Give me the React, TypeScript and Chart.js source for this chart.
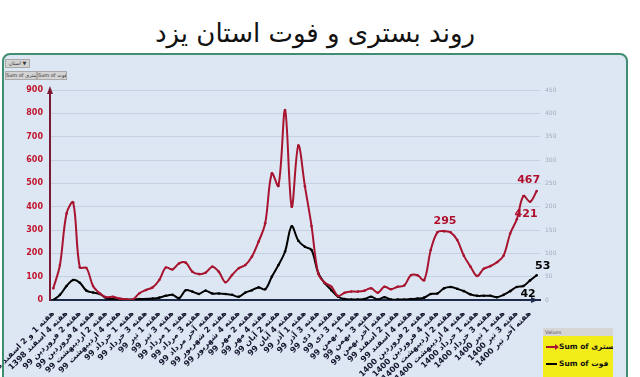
import React, { useEffect, useRef } from 'react';
import { Chart, registerables } from 'chart.js';

Chart.register(...registerables);

// Tick labels (every other week is labelled)
const tickLabels: string[] = [
  'هفته 1 و 2 اسفند 1398', 'هفته 4 اسفند 1398', 'هفته 2 فروردین 99', 'هفته 4 فروردین 99',
  'هفته 2 اردیبهشت 99', 'هفته 4 اردیبهشت 99', 'هفته 1 خرداد 99', 'هفته 3 خرداد 99',
  'هفته 1 تیر 99', 'هفته 3 تیر 99', 'هفته 1 مرداد 99', 'هفته 3 مرداد 99',
  'هفته آخر مرداد 99', 'هفته 2 شهریور 99', 'هفته 4 شهریور 99', 'هفته 2 مهر 99',
  'هفته 4 مهر 99', 'هفته 2 آبان 99', 'هفته 4 آبان 99', 'هفته 1 آذر 99',
  'هفته 3 آذر 99', 'هفته 1 دی 99', 'هفته 3 دی 99', 'هفته 1 بهمن 99',
  'هفته 3 بهمن 99', 'هفته آخر بهمن 99', 'هفته 2 اسفند 99', 'هفته 4 اسفند 99',
  'هفته 2 فروردین 1400', 'هفته 4 فروردین 1400', 'هفته 2 اردیبهشت 1400', 'هفته 4 اردیبهشت 1400',
  'هفته 1 خرداد 1400', 'هفته 3 خرداد 1400', 'هفته 1 تیر 1400', 'هفته 3 تیر 1400',
  'هفته آخر تیر 1400',
];

// Sum of بستری (left axis)
const hospitalized: number[] = [
  50, 150, 371, 418, 140, 137, 60, 29, 12, 14,
  6, 3, 2, 29, 43, 54, 86, 139, 131, 157,
  160, 121, 111, 117, 143, 121, 76, 107, 136, 150,
  186, 250, 329, 543, 489, 814, 400, 662, 487, 317,
  114, 74, 57, 17, 31, 36, 36, 40, 50, 31,
  57, 46, 57, 62, 106, 106, 85, 214, 290, 295,
  290, 257, 190, 143, 103, 134, 145, 162, 190, 285,
  346, 446, 421, 467,
];

// Sum of فوت (right axis)
const deaths: number[] = [
  0, 11, 30, 43, 37, 20, 16, 13, 4, 2,
  1, 1, 1, 2, 2, 3, 5, 9, 11, 4,
  21, 18, 13, 20, 14, 14, 13, 11, 7, 16,
  21, 27, 23, 50, 75, 104, 158, 127, 114, 107,
  58, 36, 21, 7, 2, 1, 1, 2, 7, 1,
  6, 1, 1, 1, 2, 3, 5, 13, 14, 25,
  28, 24, 19, 12, 9, 9, 9, 6, 11, 19,
  28, 30, 42, 53,
];

const RED = '#a8142f';
const BLACK = '#000000';

// which points carry value labels
const valueLabels = [
  { ds: 0, i: 73, dx: -8, dy: -11 },
  { ds: 0, i: 72, dx: -4, dy: 12 },
  { ds: 0, i: 59, dx: 1, dy: -10 },
  { ds: 1, i: 73, dx: 6, dy: -9 },
  { ds: 1, i: 72, dx: -2, dy: 14 },
];

const decor = {
  id: 'decor',
  afterDatasetsDraw(chart: any) {
    const { ctx, chartArea } = chart;
    ctx.save();
    // left axis arrow
    ctx.fillStyle = '#7d1a33';
    ctx.beginPath();
    ctx.moveTo(chartArea.left, chartArea.top - 4);
    ctx.lineTo(chartArea.left - 3, chartArea.top + 4);
    ctx.lineTo(chartArea.left + 3, chartArea.top + 4);
    ctx.closePath();
    ctx.fill();
    // x axis arrow
    ctx.fillStyle = '#1d2a4a';
    ctx.beginPath();
    ctx.moveTo(chartArea.right - 2, chartArea.bottom);
    ctx.lineTo(chartArea.right - 9, chartArea.bottom - 3);
    ctx.lineTo(chartArea.right - 9, chartArea.bottom + 3);
    ctx.closePath();
    ctx.fill();
    // value labels
    ctx.font = 'bold 11px "DejaVu Sans", sans-serif';
    ctx.textAlign = 'center';
    ctx.textBaseline = 'middle';
    valueLabels.forEach((l) => {
      const pt = chart.getDatasetMeta(l.ds).data[l.i];
      const v = chart.data.datasets[l.ds].data[l.i];
      ctx.fillStyle = l.ds === 0 ? '#b0102e' : '#000';
      ctx.fillText(String(v), pt.x + l.dx, pt.y + l.dy);
    });
    ctx.restore();
  },
};

export default function App() {
  const ref = useRef<HTMLCanvasElement>(null);
  useEffect(() => {
    document.body.style.margin = '0';
    const labels = hospitalized.map((_, i) => (i % 2 === 0 ? tickLabels[i / 2] ?? '' : ''));
    const chart = new Chart(ref.current as HTMLCanvasElement, {
      type: 'line',
      data: {
        labels,
        datasets: [
          {
            label: 'Sum of بستری',
            data: hospitalized,
            borderColor: RED,
            backgroundColor: RED,
            pointBackgroundColor: RED,
            pointBorderColor: RED,
            borderWidth: 2,
            pointRadius: 1.3,
            pointBorderWidth: 0,
            tension: 0.35,
            yAxisID: 'y',
          },
          {
            label: 'Sum of فوت',
            data: deaths,
            borderColor: BLACK,
            backgroundColor: BLACK,
            pointBackgroundColor: BLACK,
            pointBorderColor: BLACK,
            borderWidth: 2,
            pointRadius: 1.3,
            pointBorderWidth: 0,
            tension: 0.35,
            yAxisID: 'y1',
          },
        ],
      },
      options: {
        responsive: false,
        animation: false,
        layout: { padding: { top: 90, left: 0, right: 0, bottom: 0 } },
        plugins: { legend: { display: false }, tooltip: { enabled: false } },
        scales: {
          x: {
            offset: true,
            grid: { display: false, drawTicks: false },
            border: { color: '#1d2a4a', width: 2 },
            ticks: {
              autoSkip: false,
              minRotation: 45,
              maxRotation: 45,
              padding: 9,
              color: '#15152e',
              font: { family: '"DejaVu Sans", sans-serif', size: 8, weight: 'bold' },
            },
            afterFit: (s: any) => {
              s.height = 77;
              s.paddingLeft = 0;
              s.paddingRight = 0;
            },
          },
          y: {
            position: 'left',
            min: 0,
            max: 900,
            ticks: {
              stepSize: 100,
              color: '#c0142c',
              padding: 7,
              font: { family: '"DejaVu Sans", sans-serif', size: 8, weight: 'bold' },
            },
            grid: { color: '#c5d1e0', drawTicks: false },
            border: { color: '#7d1a33', width: 2 },
            afterFit: (s: any) => {
              s.width = 50;
              s.paddingTop = 0;
              s.paddingBottom = 0;
            },
          },
          y1: {
            position: 'right',
            min: 0,
            max: 450,
            ticks: {
              stepSize: 50,
              color: '#a3acbb',
              padding: 5,
              font: { family: '"DejaVu Sans", sans-serif', size: 6 },
            },
            grid: { display: false, drawTicks: false },
            border: { display: false },
            afterFit: (s: any) => {
              s.width = 100;
              s.paddingTop = 0;
              s.paddingBottom = 0;
            },
          },
        },
      } as any,
      plugins: [decor],
    });
    return () => chart.destroy();
  }, []);

  const btn: React.CSSProperties = {
    position: 'absolute',
    height: 7,
    background: '#d3d3d3',
    border: '1px solid #a9a9a9',
    fontSize: 5,
    lineHeight: '7px',
    color: '#333',
    textAlign: 'center',
    whiteSpace: 'nowrap',
    overflow: 'hidden',
  };

  return (
    <div style={{ position: 'relative', width: 640, height: 377, overflow: 'hidden', background: '#fff', fontFamily: '"DejaVu Sans", sans-serif' }}>
      <div dir="rtl" style={{ position: 'absolute', left: 0, top: 13, width: 630, textAlign: 'center', fontSize: 26, lineHeight: '40px', color: '#111' }}>
        روند بستری و فوت استان یزد
      </div>
      <div style={{ position: 'absolute', left: 2, top: 53, width: 622, height: 340, border: '2px solid #3f8e6f', borderRadius: 8, background: '#dce7f3' }} />
      <div style={{ ...btn, left: 5, top: 59, width: 23 }}>استان ▼</div>
      <div style={{ ...btn, left: 5, top: 71, width: 30 }}>Sum of بستری</div>
      <div style={{ ...btn, left: 37, top: 71, width: 28 }}>Sum of فوت</div>
      <canvas ref={ref} width={640} height={377} style={{ position: 'absolute', left: 0, top: 0, width: 640, height: 377 }} />
      <div style={{ position: 'absolute', left: 543, top: 328, width: 70, height: 49, background: '#f2ec18', overflow: 'hidden' }}>
        <div style={{ height: 8, background: '#d6d6d6', fontSize: 5, lineHeight: '8px', color: '#555', paddingLeft: 2 }}>Values</div>
        <div style={{ position: 'absolute', left: 3, top: 18, width: 10, height: 2, background: RED }} />
        <div style={{ position: 'absolute', left: 12, top: 16, width: 0, height: 0, borderTop: '3px solid transparent', borderBottom: '3px solid transparent', borderLeft: `4px solid ${RED}` }} />
        <div style={{ position: 'absolute', left: 16, top: 14, fontSize: 7.5, fontWeight: 'bold', color: '#111', whiteSpace: 'nowrap' }}>Sum of بستری</div>
        <div style={{ position: 'absolute', left: 3, top: 35, width: 11, height: 2, background: '#000' }} />
        <div style={{ position: 'absolute', left: 16, top: 31, fontSize: 7.5, fontWeight: 'bold', color: '#111', whiteSpace: 'nowrap' }}>Sum of فوت</div>
      </div>
    </div>
  );
}
